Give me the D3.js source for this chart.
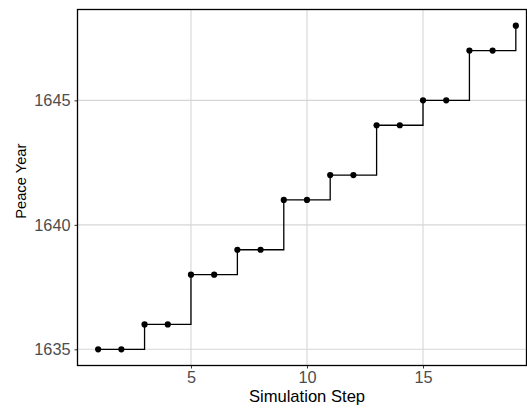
<!DOCTYPE html>
<meta charset="utf-8">
<style>
body { margin: 0; background: #fff; }
text { font-family: "Liberation Sans", Arial, sans-serif; }
.grid line { stroke: #d6d6d6; stroke-width: 1.1px; }
.tick text { fill: #4d4d4d; font-size: 16.3px; }
.tick line { stroke: #333; }
</style>
<svg width="527" height="410"></svg>
<script src="https://cdn.jsdelivr.net/npm/d3@7"></script>
<script>

var steps = [1, 2, 3, 4, 5, 6, 7, 8, 9, 10, 11, 12, 13, 14, 15, 16, 17, 18, 19];
var peaceYear = [1635, 1635, 1636, 1636, 1638, 1638, 1639, 1639, 1641, 1641,
                 1642, 1642, 1644, 1644, 1645, 1645, 1647, 1647, 1648];
var xTicks = [5, 10, 15];
var yTicks = [1635, 1640, 1645];

var data = steps.map(function(s, i) { return {x: s, y: peaceYear[i]}; });

var svg = d3.select("svg");
var pLeft = 77.5, pRight = 526.5, pTop = 9.5, pBottom = 365.5;

var x = d3.scaleLinear().domain([0.11, 19.46]).range([pLeft, pRight]);
var y = d3.scaleLinear().domain([1634.35, 1648.65]).range([pBottom, pTop]);

// grid
var grid = svg.append("g").attr("class", "grid");
grid.selectAll(".gx").data(xTicks).enter().append("line")
    .attr("x1", d => x(d)).attr("x2", d => x(d))
    .attr("y1", pTop).attr("y2", pBottom);
grid.selectAll(".gy").data(yTicks).enter().append("line")
    .attr("y1", d => y(d)).attr("y2", d => y(d))
    .attr("x1", pLeft).attr("x2", pRight);

// step line (horizontal then vertical)
var line = d3.line()
    .x(d => x(d.x))
    .y(d => y(d.y))
    .curve(d3.curveStepAfter);

svg.append("path")
    .datum(data)
    .attr("fill", "none")
    .attr("stroke", "#000")
    .attr("stroke-width", 1.3)
    .attr("d", line);

svg.append("g").selectAll("circle")
    .data(data)
    .enter().append("circle")
      .attr("cx", d => x(d.x))
      .attr("cy", d => y(d.y))
      .attr("r", 3.1)
      .attr("fill", "#000");

// axes
svg.append("g")
    .attr("transform", "translate(0," + pBottom + ")")
    .call(d3.axisBottom(x).tickValues(xTicks).tickSize(3).tickPadding(3))
    .call(g => g.select(".domain").remove());

svg.append("g")
    .attr("transform", "translate(" + pLeft + ",0)")
    .call(d3.axisLeft(y).tickValues(yTicks).tickFormat(d3.format("d")).tickSize(3).tickPadding(4))
    .call(g => g.select(".domain").remove());

// panel border
svg.append("rect")
    .attr("x", pLeft).attr("y", pTop)
    .attr("width", pRight - pLeft).attr("height", pBottom - pTop)
    .attr("fill", "none")
    .attr("stroke", "#000")
    .attr("stroke-width", 1.3);

// titles
svg.append("text")
    .attr("x", 307)
    .attr("y", 402)
    .attr("text-anchor", "middle")
    .style("font-size", "16.6px")
    .text("Simulation Step");

svg.append("text")
    .attr("transform", "translate(26.3,181.2) rotate(-90)")
    .attr("text-anchor", "middle")
    .style("font-size", "14.7px")
    .text("Peace Year");

</script>
